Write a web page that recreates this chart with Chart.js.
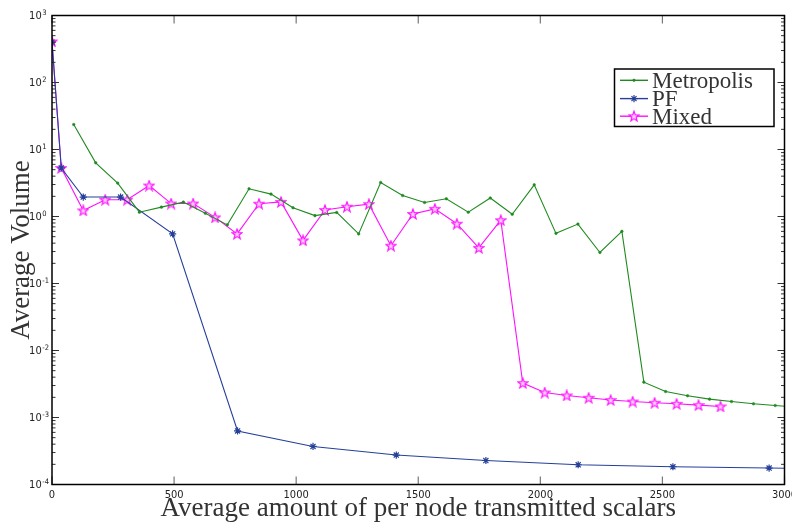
<!DOCTYPE html>
<html>
<head>
<meta charset="utf-8">
<script src="https://cdn.jsdelivr.net/npm/chart.js@4.4.0/dist/chart.umd.min.js"></script>
<style>
  html, body { margin: 0; padding: 0; background: #fff; }
  #wrap { width: 792px; height: 522px; position: relative; }
</style>
</head>
<body>
<div id="wrap"><canvas id="volume"></canvas></div>
<script>
// values
var metroX = [89, 179, 269, 358, 448, 538, 628, 718, 807, 897, 987, 1077, 1166, 1256, 1346, 1436, 1526,
  1615, 1705, 1795, 1885, 1975, 2064, 2154, 2244, 2334, 2424, 2513, 2603, 2693, 2783, 2873, 2962, 3052];
var metroY = [23.6, 6.33, 3.15, 1.16, 1.38, 1.64, 1.12, 0.75, 2.59, 2.16, 1.35, 1.03, 1.15, 0.55, 3.22, 2.06, 1.62,
  1.84, 1.16, 1.89, 1.08, 2.97, 0.56, 0.77, 0.29, 0.60, 3.37e-3, 2.44e-3, 2.11e-3, 1.88e-3, 1.73e-3, 1.60e-3, 1.51e-3, 1.43e-3];

var pfX = [0, 38, 128, 281, 494, 760, 1069, 1410, 1777, 2155, 2543, 2937, 3335];
var pfY = [400, 5.3, 1.95, 1.95, 0.55, 6.3e-4, 3.7e-4, 2.75e-4, 2.28e-4, 1.97e-4, 1.84e-4, 1.76e-4, 1.71e-4];

var mixedX = [0, 38, 128, 218, 308, 398, 488, 578, 668, 758, 848, 938, 1028, 1118, 1208, 1298, 1388, 1478,
  1568, 1658, 1748, 1838, 1928, 2018, 2108, 2198, 2288, 2378, 2468, 2558, 2648, 2738];
var mixedY = [410, 5.3, 1.23, 1.78, 1.78, 2.90, 1.56, 1.56, 0.97, 0.55, 1.55, 1.65, 0.44, 1.25, 1.40, 1.53, 0.366, 1.09,
  1.30, 0.78, 0.34, 0.88, 3.26e-3, 2.36e-3, 2.13e-3, 1.97e-3, 1.82e-3, 1.73e-3, 1.66e-3, 1.60e-3, 1.53e-3, 1.46e-3];

var seriesNames = ["Metropolis", "PF", "Mixed"];
var xTicks = [0, 500, 1000, 1500, 2000, 2500, 3000];
var yTicks = [1e-4, 1e-3, 1e-2, 1e-1, 1, 10, 100, 1000];
var yExponents = ["-4", "-3", "-2", "-1", "0", "1", "2", "3"];

var GREEN = "#1f8a1f", BLUE = "#26409a", MAGENTA = "#ff10ff";

function pts(xs, ys) {
  return xs.map(function (v, i) { return { x: v, y: ys[i] }; });
}

function pentagram() {
  var c = document.createElement("canvas");
  c.width = 12; c.height = 12;
  var g = c.getContext("2d");
  g.beginPath();
  for (var i = 0; i < 10; i++) {
    var r = i % 2 ? 2.2 : 5.3;
    var a = -Math.PI / 2 + i * Math.PI / 5;
    g.lineTo(6 + r * Math.cos(a), 6.4 + r * Math.sin(a));
  }
  g.closePath();
  g.fillStyle = "#ffd0ff";
  g.fill();
  g.strokeStyle = MAGENTA;
  g.lineWidth = 1.2;
  g.stroke();
  return c;
}
var starMark = pentagram();

// frame, inward ticks, tick labels and boxed legend
var frame = {
  id: "frame",
  afterDatasetsDraw: function (chart) {
    var ctx = chart.ctx, a = chart.chartArea, x = chart.scales.x, y = chart.scales.y;
    ctx.save();
    function seg(x1, y1, x2, y2) { ctx.beginPath(); ctx.moveTo(x1, y1); ctx.lineTo(x2, y2); ctx.stroke(); }

    ctx.strokeStyle = "#777"; ctx.lineWidth = 1.2;
    xTicks.forEach(function (v) {
      var px = x.getPixelForValue(v);
      seg(px, a.bottom, px, a.bottom - 8);
      seg(px, a.top, px, a.top + 8);
    });

    ctx.strokeStyle = "#333"; ctx.lineWidth = 1;
    yTicks.forEach(function (v, i) {
      var py = y.getPixelForValue(v);
      seg(a.left, py, a.left + 7, py);
      seg(a.right, py, a.right - 7, py);
      if (i === yTicks.length - 1) return;
      for (var m = 2; m <= 9; m++) {
        var q = y.getPixelForValue(v * m);
        seg(a.left, q, a.left + 3.5, q);
        seg(a.right, q, a.right - 3.5, q);
      }
    });

    ctx.strokeStyle = "#000"; ctx.lineWidth = 1.5;
    ctx.strokeRect(a.left, a.top, a.right - a.left, a.bottom - a.top);

    ctx.fillStyle = "#222";
    ctx.font = '11px "Liberation Sans Narrow", "DejaVu Sans Condensed", sans-serif';
    ctx.textAlign = "center"; ctx.textBaseline = "middle";
    xTicks.forEach(function (v) { ctx.fillText(String(v), x.getPixelForValue(v), 495); });

    yTicks.forEach(function (v, i) {
      var py = y.getPixelForValue(v);
      ctx.font = '11px "Liberation Sans Narrow", "DejaVu Sans Condensed", sans-serif';
      ctx.textAlign = "right"; ctx.textBaseline = "middle";
      ctx.fillText("10", 41.7, py + 1);
      ctx.font = '7.5px "Liberation Sans Narrow", "DejaVu Sans Condensed", sans-serif';
      ctx.textAlign = "left";
      ctx.fillText(yExponents[i], 42.3, py - 2.5);
    });

    // legend
    var lx = 614.5, ly = 69, lw = 159.5, lh = 57.5;
    ctx.fillStyle = "#fff";
    ctx.fillRect(lx, ly, lw, lh);
    ctx.strokeStyle = "#000"; ctx.lineWidth = 1.5;
    ctx.strokeRect(lx, ly, lw, lh);
    var rows = [80.3, 98.6, 116.2];
    chart.data.datasets.forEach(function (ds, i) {
      var ry = rows[i];
      ctx.strokeStyle = ds.borderColor; ctx.lineWidth = 1.4;
      seg(620, ry, 648, ry);
      ctx.fillStyle = ds.pointBackgroundColor;
      ctx.strokeStyle = ds.pointBorderColor;
      ctx.lineWidth = ds.pointBorderWidth;
      Chart.helpers.drawPoint(ctx, { pointStyle: ds.pointStyle, radius: ds.pointRadius, borderWidth: ds.pointBorderWidth, rotation: 0 }, 634, ry);
      ctx.fillStyle = "#333";
      ctx.font = '23px "Liberation Serif", "Times New Roman", serif';
      ctx.textAlign = "left"; ctx.textBaseline = "alphabetic";
      ctx.fillText(seriesNames[i], 652, ry + 7.5);
    });
    ctx.restore();
  }
};

new Chart(document.getElementById("volume"), {
  type: "line",
  data: {
    datasets: [
      {
        label: seriesNames[0],
        data: pts(metroX, metroY),
        borderColor: GREEN, borderWidth: 1.1,
        pointStyle: "circle", pointRadius: 1.3,
        pointBackgroundColor: GREEN, pointBorderColor: GREEN, pointBorderWidth: 0.5,
      },
      {
        label: seriesNames[1],
        data: pts(pfX, pfY),
        borderColor: BLUE, borderWidth: 1.1,
        pointStyle: "star", pointRadius: 3.6,
        pointBackgroundColor: BLUE, pointBorderColor: BLUE, pointBorderWidth: 1.2,
      },
      {
        label: seriesNames[2],
        data: pts(mixedX, mixedY),
        borderColor: MAGENTA, borderWidth: 1.1,
        pointStyle: starMark, pointRadius: 6,
        pointBackgroundColor: MAGENTA, pointBorderColor: MAGENTA, pointBorderWidth: 1,
      },
    ],
  },
  options: {
    responsive: true,
    maintainAspectRatio: false,
    animation: false,
    events: [],
    layout: { padding: { left: 0, right: 7.5, top: 15.5, bottom: 0 } },
    elements: { line: { tension: 0 } },
    plugins: { legend: { display: false }, tooltip: { enabled: false } },
    scales: {
      x: {
        type: "linear", min: 0, max: 3000,
        grid: { display: false }, border: { display: false },
        ticks: { display: false },
        title: {
          display: true, text: "Average amount of per node transmitted scalars",
          color: "#333", padding: { top: 0, bottom: 0 },
          font: { family: '"Liberation Serif", "Times New Roman", serif', size: 27, lineHeight: 0.98 },
        },
        afterFit: function (s) { s.height = 37.5; },
      },
      y: {
        type: "logarithmic", min: 1e-4, max: 1e3,
        grid: { display: false }, border: { display: false },
        ticks: { display: false },
        title: {
          display: true, text: "Average Volume",
          color: "#333", padding: { top: 6, bottom: 0 },
          font: { family: '"Liberation Serif", "Times New Roman", serif', size: 27 },
        },
        afterFit: function (s) { s.width = 52; },
      },
    },
  },
  plugins: [frame],
});
</script>
</body>
</html>
